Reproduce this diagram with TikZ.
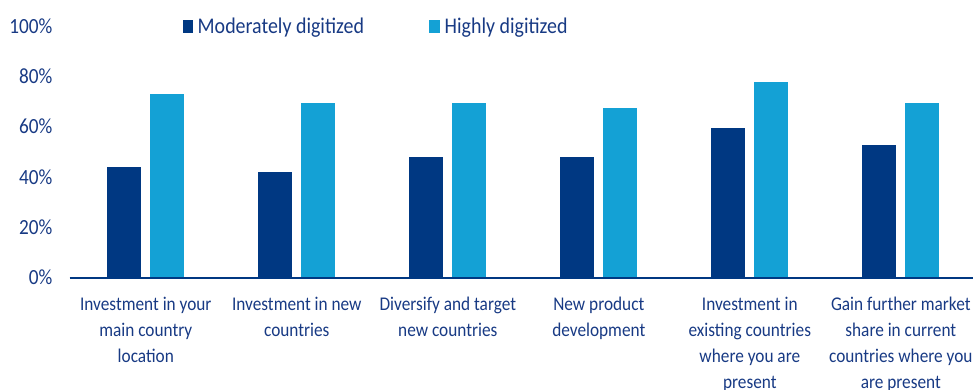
\documentclass[tikz,border=0pt]{standalone}
\usepackage{fontspec}
\setmainfont[FakeStretch=0.89]{Carlito}
\definecolor{darkbar}{RGB}{0,56,130}
\definecolor{lightbar}{RGB}{20,161,213}
\definecolor{txtblue}{RGB}{24,58,132}
\tikzset{
  catlabel/.style={anchor=north, inner sep=0pt, align=center, text=txtblue,
    font=\fontsize{19.4}{26}\selectfont},
  ticklabel/.style={anchor=base east, inner sep=0pt, text=txtblue,
    font=\fontsize{21.6}{24}\selectfont},
  legendtext/.style={anchor=base west, inner sep=0pt, text=txtblue,
    font=\fontsize{22.4}{26}\selectfont},
}
\begin{document}
\begin{tikzpicture}[x=1pt,y=-1pt]
\useasboundingbox (0,0) rectangle (973,390);
% tick labels
\foreach \v in {0,20,...,100}{
  \node[ticklabel] (t\v) at (52.5,{277.5-2.5*\v+6.5}) {\v\%};
}
% bars
\foreach \i/\d/\l in {0/167/93.7, 1/172.3/103.3, 2/156.7/102.7, 3/156.7/108, 4/128/82.3, 5/145.3/103}{
  \pgfmathsetmacro{\c}{145.8+151*\i}
  \fill[darkbar] ({\c-38.5},277.5) rectangle ({\c-4.5},\d);
  \fill[lightbar] ({\c+4.5},277.5) rectangle ({\c+38.5},\l);
}
% axis
\draw[darkbar, line width=2pt] (69.5,277.5) -- (973,277.5);
% category labels
\node[catlabel] (c1) at (145.8,292.5) {\strut Investment in your\\main country\\location};
\node[catlabel] (c2) at (296.8,292.5) {\strut Investment in new\\countries};
\node[catlabel] (c3) at (447.8,292.5) {\strut Diversify and target\\new countries};
\node[catlabel] (c4) at (598.8,292.5) {\strut New product\\development};
\node[catlabel] (c5) at (749.8,292.5) {\strut Investment in\\existing countries\\where you are\\present};
\node[catlabel] (c6) at (900.8,292.5) {\strut Gain further market\\share in current\\countries where you\\are present};
% legend
\fill[darkbar] (182.5,20.5) rectangle (193.3,33.3);
\node[legendtext] (l1) at (197.5,33.3) {Moderately digitized};
\fill[lightbar] (429.3,20.5) rectangle (440.1,33.3);
\node[legendtext] (l2) at (444.5,33.3) {Highly digitized};
\end{tikzpicture}
\end{document}
